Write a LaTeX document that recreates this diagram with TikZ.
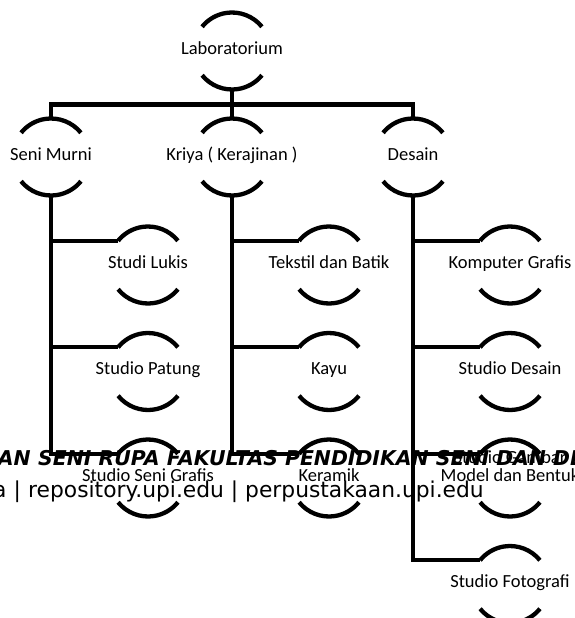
\documentclass[tikz,border=0pt]{standalone}
\usepackage{fontspec}
\setmainfont{Carlito}
\newfontfamily\wmfont{DejaVu Sans}
\usetikzlibrary{calc}
\begin{document}
\begin{tikzpicture}[x=1pt,y=1pt]
\tikzset{
  conn/.style={line width=4.3pt, draw=black},
  lbl/.style={inner sep=0pt, text height=0.644em, text depth=0pt,
    font=\fontsize{18.5}{18}\selectfont, align=center},
  wmA/.style={inner sep=0pt, font=\wmfont\bfseries\itshape\fontsize{20.4}{21}\selectfont},
  wmB/.style={inner sep=0pt, font=\wmfont\fontsize{21.8}{22}\selectfont},
}
\useasboundingbox (0,0) rectangle (574,-618);
\clip (0,0) rectangle (574,-618);

\node[lbl] (lab) at (232,-51) {Laboratorium};
\node[lbl] (sm) at (51,-157) {Seni Murni};
\node[lbl] (kr) at (232,-157) {Kriya ( Kerajinan )};
\node[lbl] (ds) at (413,-157) {Desain};
\node[lbl] (sl) at (148,-265) {Studi Lukis};
\node[lbl] (sp) at (148,-371.5) {Studio Patung};
\node[lbl] (sg) at (148,-478) {Studio Seni Grafis};
\node[lbl] (tb) at (329,-265) {Tekstil dan Batik};
\node[lbl] (ky) at (329,-371.5) {Kayu};
\node[lbl] (km) at (329,-478) {Keramik};
\node[lbl] (kg) at (510,-265) {Komputer Grafis};
\node[lbl] (sd) at (510,-371.5) {Studio Desain};
\node[lbl] (gm) at (510,-478) {Studio Gambar\\Model dan Bentuk};
\node[lbl] (fo) at (510,-584.5) {Studio Fotografi};

\foreach \n in {lab,sm,kr,ds,sl,sp,sg,tb,ky,km,kg,sd,gm,fo}{
  \draw[conn] (\n.center) ++(39:38.5pt) arc[start angle=39,end angle=141,radius=38.5pt];
  \draw[conn] (\n.center) ++(219:38.5pt) arc[start angle=219,end angle=321,radius=38.5pt];
  \coordinate (\n-t) at ($(\n.center)+(0,38.5pt)$);
  \coordinate (\n-b) at ($(\n.center)+(0,-38.5pt)$);
  \coordinate (\n-l) at ($(\n.center)+(141:38.5pt)$);
}

% top bus
\draw[conn] (sm-t) |- ($(ds-t)+(0,14pt)$) -- (ds-t);
\draw[conn] (lab-b) -- (kr-t);

% Seni Murni column
\draw[conn] (sm-b) |- (sg-l);
\draw[conn] (sm-b |- sl-l) -- (sl-l);
\draw[conn] (sm-b |- sp-l) -- (sp-l);
% Kriya column
\draw[conn] (kr-b) |- (km-l);
\draw[conn] (kr-b |- tb-l) -- (tb-l);
\draw[conn] (kr-b |- ky-l) -- (ky-l);
% Desain column
\draw[conn] (ds-b) |- (fo-l);
\draw[conn] (ds-b |- kg-l) -- (kg-l);
\draw[conn] (ds-b |- sd-l) -- (sd-l);
\draw[conn] (ds-b |- gm-l) -- (gm-l);

% watermark
\node[wmA, anchor=base east] (wa1) at (31,-465) {PENDIDIKAN};
\node[wmA, anchor=base west] (wa2) at (38,-465) {SENI RUPA FAKULTAS PENDIDIKAN SENI DAN DESAIN};
\node[wmB, anchor=base east] (wb1) at (21,-497) {Universitas Pendidikan Indonesia |};
\node[wmB, anchor=base west] (wb2) at (28,-497) {repository.upi.edu | perpustakaan.upi.edu};
\end{tikzpicture}
\end{document}
